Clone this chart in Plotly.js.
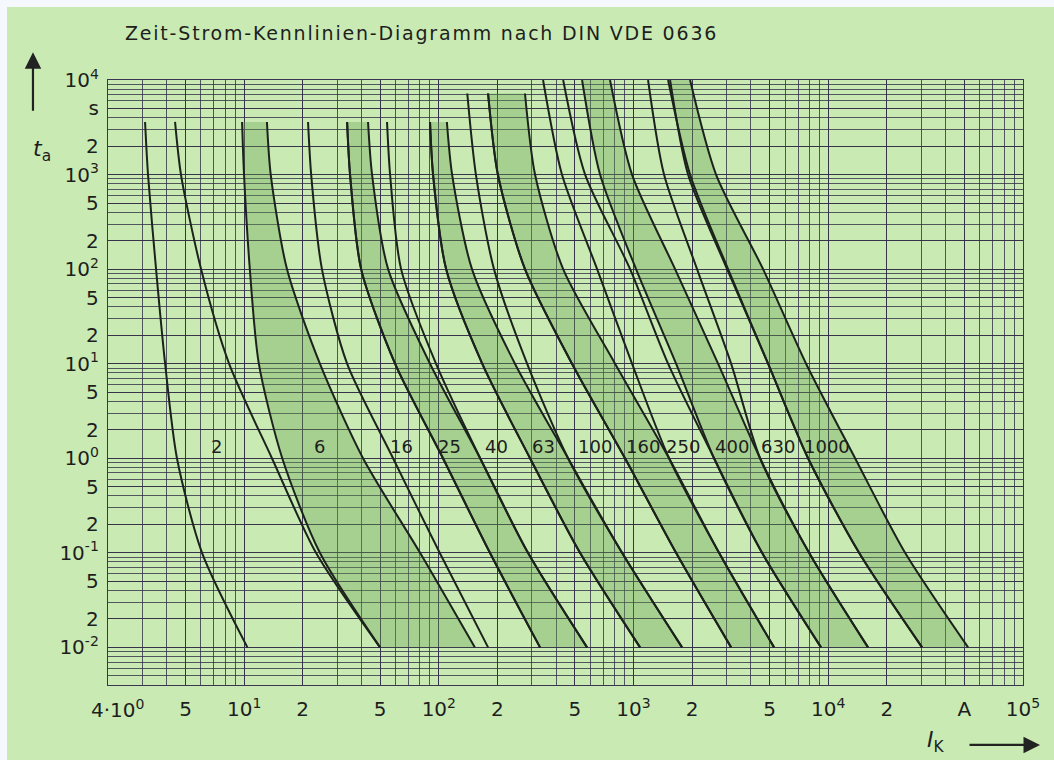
<!DOCTYPE html>
<html>
<head>
<meta charset="utf-8">
<script src="https://cdn.plot.ly/plotly-3.0.1.min.js"></script>
<style>
  html, body { margin: 0; padding: 0; background: #f5f8fc; }
  #chart { position: absolute; left: 7px; top: 7px; width: 1047px; height: 753px; }
</style>
</head>
<body>
<div id="chart"></div>
<script>
// Fuse ratings (A) and which bands are shaded
const ratings = ['2', '6', '16', '25', '40', '63', '100', '160', '250', '400', '630', '1000'];
const shaded  = [false, true, false, true, false, true, false, true, false, true, false, true];

// Time points (s) along each curve
const tShort = [3600, 1000, 100, 10, 1, 0.1, 0.01];
const tMid   = [7200, 1000, 100, 10, 1, 0.1, 0.01];
const tLong  = [10000, 1000, 100, 10, 1, 0.1, 0.01];

// Currents (A): lower (min) and upper (max) curve of each band
const i2Min    = [3.10, 3.21, 3.53, 3.93, 4.52, 6.08, 10.4];
const i2Max    = [4.42, 4.74, 6.01, 8.37, 13.9, 23.4, 49.9];
const i6Min    = [9.76, 9.99, 10.7, 11.9, 15.7, 24.5, 49.9];
const i6Max    = [13.1, 13.7, 16.6, 24.5, 40.8, 80.1, 153];
const i16Min   = [21.3, 22.1, 25.1, 33.8, 58.2, 101, 179];
const i16Max   = [33.8, 35.0, 39.9, 59.6, 105, 183, 331];
const i25Min   = [33.8, 35.0, 39.9, 59.6, 105, 183, 331];
const i25Max   = [43.3, 45.4, 54.9, 90.1, 163, 287, 577];
const i40Min   = [54.2, 56.2, 64.0, 96.7, 163, 287, 577];
const i40Max   = [90.1, 93.4, 109, 167, 294, 531, 1080];
const i63Min   = [90.1, 93.4, 109, 167, 294, 531, 1080];
const i63Max   = [110, 117, 148, 246, 461, 873, 1775];
const i100Min  = [140, 155, 192, 284, 461, 873, 1775];
const i100Max  = [179, 201, 277, 483, 904, 1653, 3170];
const i160Min  = [179, 201, 277, 483, 904, 1653, 3170];
const i160Max  = [277, 312, 435, 804, 1522, 2748, 5270];
const i250Min  = [343, 429, 650, 982, 1522, 2748, 5270];
const i250Max  = [435, 564, 960, 1504, 2591, 4570, 9180];
const i400Min  = [544, 673, 1030, 1653, 2591, 4570, 9180];
const i400Max  = [757, 982, 1634, 2717, 4464, 7970, 16000];
const i630Min  = [1187, 1434, 2119, 3170, 4464, 7970, 16000];
const i630Max  = [1504, 1951, 3058, 4907, 7874, 14394, 30320];
const i1000Min = [1540, 1905, 3022, 4907, 7874, 14394, 30320];
const i1000Max = [1951, 2653, 4626, 7692, 13732, 24808, 52240];

const bandMin = [i2Min, i6Min, i16Min, i25Min, i40Min, i63Min, i100Min, i160Min, i250Min, i400Min, i630Min, i1000Min];
const bandMax = [i2Max, i6Max, i16Max, i25Max, i40Max, i63Max, i100Max, i160Max, i250Max, i400Max, i630Max, i1000Max];
const bandTime = [tShort, tShort, tShort, tShort, tShort, tShort, tMid, tMid, tLong, tLong, tLong, tLong];

// Label positions of the rating numbers (A, s)
const labelI = [7.23, 24.5, 64.5, 114, 198, 343, 634, 1119, 1796, 3195, 5524, 9824];
const labelT = 1.32;

// Axis ticks
const xTickVals = [5, 10, 20, 50, 100, 200, 500, 1000, 2000, 5000, 10000, 20000, 50000, 100000];
const xTickText = ['5', '10<sup>1</sup>', '2', '5', '10<sup>2</sup>', '2', '5', '10<sup>3</sup>', '2', '5', '10<sup>4</sup>', '2', 'A', '10<sup>5</sup>'];
const yTickVals = [0.01, 0.02, 0.05, 0.1, 0.2, 0.5, 1, 2, 5, 10, 20, 50, 100, 200, 500, 1000, 2000, 5000, 10000];
const yTickText = ['10<sup>-2</sup>', '2', '5', '10<sup>-1</sup>', '2', '5', '10<sup>0</sup>', '2', '5', '10<sup>1</sup>', '2', '5', '10<sup>2</sup>', '2', '5', '10<sup>3</sup>', '2', 's', '10<sup>4</sup>'];

const curveColor = '#1c231c';
const gridColor = 'rgba(48,42,70,0.78)';
const bg = '#c9ebb3';
const bandFill = 'rgba(105,160,80,0.36)';
const fontFam = 'DejaVu Sans, sans-serif';
const smooth = 0.75;

const traces = [];
// shaded bands first: outline = lower curve down, upper curve back up;
// corner vertices are repeated so the top and bottom edges stay straight
for (let k = 0; k < ratings.length; k++) {
  if (!shaded[k]) continue;
  const L = bandMin[k], R = bandMax[k], t = bandTime[k], n = t.length;
  traces.push({
    x: [L[0]].concat(L, [L[n - 1]], [R[n - 1]], R.slice().reverse(), [R[0]]),
    y: [t[0]].concat(t, [t[n - 1]], [t[n - 1]], t.slice().reverse(), [t[0]]),
    mode: 'lines', type: 'scatter', fill: 'toself', fillcolor: bandFill,
    line: { width: 0, shape: 'spline', smoothing: smooth, simplify: false }, hoverinfo: 'skip'
  });
}
// curves
for (let k = 0; k < ratings.length; k++) {
  [bandMin[k], bandMax[k]].forEach(xs => traces.push({
    x: xs, y: bandTime[k], mode: 'lines', type: 'scatter',
    line: { color: curveColor, width: 2, shape: 'spline', smoothing: smooth },
    hoverinfo: 'skip'
  }));
}

const annotations = ratings.map((r, k) => ({
  x: Math.log10(labelI[k]), y: Math.log10(labelT), xref: 'x', yref: 'y',
  text: r, showarrow: false, font: { size: 18, color: '#1e1e1e', family: fontFam }
}));

// Left-most x label
annotations.push({ xref: 'paper', yref: 'paper', x: 0.01, y: 0, xanchor: 'center', yanchor: 'top', yshift: -9,
  text: '4·10<sup>0</sup>', showarrow: false, font: { size: 20, color: '#1e1e1e', family: fontFam } });
// y axis arrow and symbol
annotations.push({ xref: 'paper', yref: 'paper', x: -0.082, y: 1.046, ax: 0, ay: 60, text: '',
  showarrow: true, arrowhead: 2, arrowsize: 1.5, arrowwidth: 2.2, arrowcolor: '#222' });
annotations.push({ xref: 'paper', yref: 'paper', x: -0.084, y: 0.91, text: '<i>t</i><sub>a</sub>',
  showarrow: false, font: { size: 22, color: '#1e1e1e', family: fontFam } });
// x axis arrow and symbol
annotations.push({ xref: 'paper', yref: 'paper', x: 1.0186, y: -0.099, ax: -72, ay: 0, text: '',
  showarrow: true, arrowhead: 2, arrowsize: 1.5, arrowwidth: 2.2, arrowcolor: '#222' });
annotations.push({ xref: 'paper', yref: 'paper', x: 0.917, y: -0.12, text: '<i>I</i><sub>K</sub>',
  showarrow: false, font: { size: 22, color: '#1e1e1e', family: fontFam } });

const axisCommon = {
  type: 'log', tickmode: 'array', showgrid: true, gridcolor: gridColor, gridwidth: 1,
  minor: { dtick: 'D1', showgrid: true, gridcolor: gridColor, gridwidth: 1 },
  showline: true, mirror: true, linecolor: '#3a3550', linewidth: 1.2,
  ticks: 'outside', tickcolor: 'rgba(0,0,0,0)', zeroline: false,
  tickfont: { size: 20, color: '#1e1e1e', family: fontFam }, fixedrange: true
};

const layout = {
  width: 1047, height: 753,
  paper_bgcolor: bg, plot_bgcolor: bg,
  margin: { l: 101, r: 31, t: 73, b: 75 },
  showlegend: false, hovermode: false,
  title: { text: '<span style="letter-spacing:1.8px">Zeit-Strom-Kennlinien-Diagramm nach DIN VDE 0636</span>',
    xref: 'container', yref: 'container',
    x: 0.1127, xanchor: 'left', y: 0.9655, yanchor: 'middle',
    font: { size: 19, color: '#1e1e1e', family: fontFam } },
  xaxis: Object.assign({}, axisCommon, { range: [Math.log10(2), 5], tickvals: xTickVals, ticktext: xTickText, ticklen: 6 }),
  yaxis: Object.assign({}, axisCommon, { range: [Math.log10(0.004), 4], tickvals: yTickVals, ticktext: yTickText, ticklen: 4 }),
  annotations: annotations
};

Plotly.newPlot('chart', traces, layout, { displayModeBar: false, staticPlot: true });
</script>
</body>
</html>
